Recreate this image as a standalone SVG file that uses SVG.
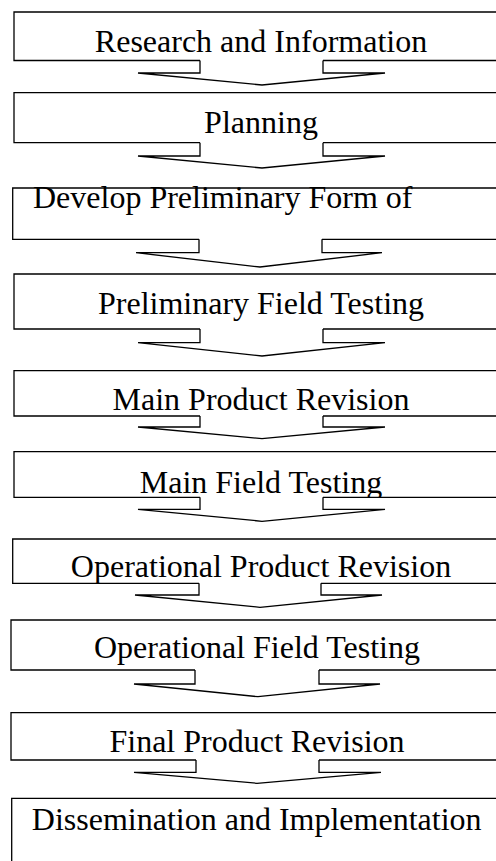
<svg xmlns="http://www.w3.org/2000/svg" width="496" height="861" viewBox="0 0 496 861">
<style>
.b{fill:none;stroke:#000;stroke-width:1.3}
.a{fill:none;stroke:#000;stroke-width:1.3;stroke-linejoin:miter}
text{font-family:"Liberation Serif","Times New Roman",serif;font-size:32px;fill:#000}
.c{text-anchor:middle}
</style>
<defs><clipPath id="clip6"><rect x="14" y="451.7" width="506" height="45.6"/></clipPath></defs>
<rect width="496" height="861" fill="#fff"/>
<g id="n1"><path class="b" d="M323,60.5 H520 V12 H14 V60.5 H200"/><text class="c" x="261" y="52">Research and Information</text></g>
<g id="n2"><path class="b" d="M323,142.7 H520 V92.7 H14 V142.7 H200"/><text class="c" x="261" y="132.7">Planning</text></g>
<g id="n3"><path class="b" d="M322,239.3 H520 V188 H12.7 V239.3 H199"/><text x="33" y="208">Develop Preliminary Form of</text></g>
<g id="n4"><path class="b" d="M323,329 H520 V274 H14 V329 H200"/><text class="c" x="261" y="314">Preliminary Field Testing</text></g>
<g id="n5"><path class="b" d="M323,416 H520 V370.7 H14 V416 H200"/><text class="c" x="261" y="410">Main Product Revision</text></g>
<g id="n6"><path class="b" d="M323,497.3 H520 V451.7 H14 V497.3 H200"/><text class="c" x="261" y="493" clip-path="url(#clip6)">Main Field Testing</text></g>
<g id="n7"><path class="b" d="M321,583.3 H520 V539 H12.7 V583.3 H199"/><text class="c" x="261" y="577">Operational Product Revision</text></g>
<g id="n8"><path class="b" d="M319,670 H520 V620 H11 V670 H195"/><text class="c" x="257" y="658">Operational Field Testing</text></g>
<g id="n9"><path class="b" d="M319,760 H520 V712.7 H11 V760 H196"/><text class="c" x="257" y="752">Final Product Revision</text></g>
<g id="n10"><path class="b" d="M520,870 V798.3 H11.7 V870"/><text class="c" x="256.7" y="830">Dissemination and Implementation</text></g>
<g id="connectors">
<path class="a" d="M200,60.5 V73 H138 L262,85 L385,73 H323 V60.5"/>
<path class="a" d="M200,142.7 V156 H138 L262,168 L385,156 H323 V142.7"/>
<path class="a" d="M199,239.3 V252.7 H136 L260,267 L382,252.7 H322 V239.3"/>
<path class="a" d="M200,329 V342.7 H138 L262,356 L385,342.7 H323 V329"/>
<path class="a" d="M200,416 V427 H138 L262,438.7 L385,427 H323 V416"/>
<path class="a" d="M200,497.3 V509.3 H138 L262,521.3 L385,509.3 H323 V497.3"/>
<path class="a" d="M199,583.3 V595 H135 L260,607.3 L382,595 H321 V583.3"/>
<path class="a" d="M195,670 V684 H134 L258,696.7 L380,684 H319 V670"/>
<path class="a" d="M196,760 V772.3 H134 L257,783.3 L381,772.3 H319 V760"/>
</g>
</svg>
